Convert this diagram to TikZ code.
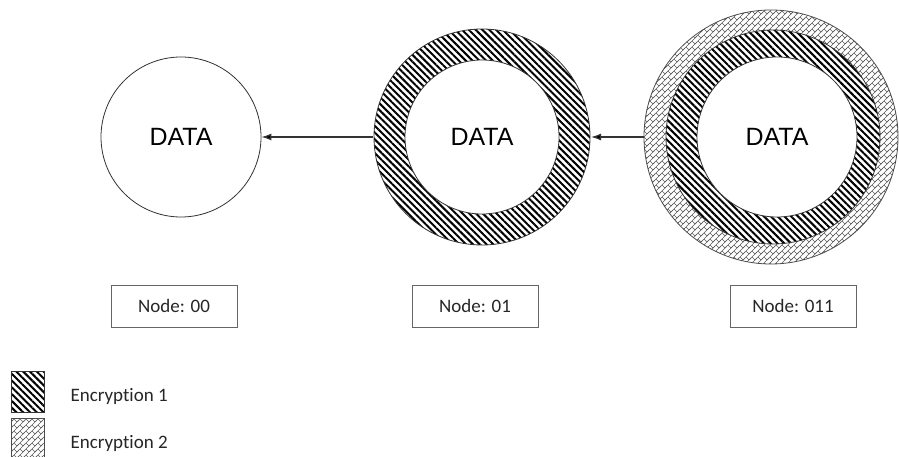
\documentclass[tikz,border=0pt]{standalone}
\usepackage{fontspec}
\setmainfont{Carlito}[Ligatures=NoCommon]
\newfontfamily\datafont{Liberation Sans}
\usepackage{tikz}
\usetikzlibrary{arrows.meta,patterns,patterns.meta}

\pgfdeclarepatternformonly{encweave}{\pgfqpoint{-2pt}{-2pt}}{\pgfqpoint{8pt}{8pt}}{\pgfqpoint{6pt}{6pt}}{
  \pgfsetlinewidth{0.6pt}
  \pgfpathmoveto{\pgfqpoint{-1pt}{-1pt}}\pgfpathlineto{\pgfqpoint{7pt}{7pt}}
  \pgfpathmoveto{\pgfqpoint{2pt}{2pt}}\pgfpathcurveto{\pgfqpoint{3pt}{0.5pt}}{\pgfqpoint{4pt}{0pt}}{\pgfqpoint{5pt}{-1pt}}
  \pgfusepath{stroke}
}

\begin{document}
\begin{tikzpicture}[x=1pt,y=-1pt,
    datacircle/.style={circle, draw=black!80, line width=0.8pt, fill=white, inner sep=0pt,
      font=\datafont\fontsize{25}{29}\selectfont},
    ringone/.style={circle, draw=black!80, line width=0.8pt, inner sep=0pt, preaction={fill=white},
      pattern={Lines[angle=-45,distance=4.8pt,line width=2pt]}},
    ringtwo/.style={circle, draw=black!70, line width=0.8pt, inner sep=0pt,
      pattern=encweave, pattern color=black!65},
    nodebox/.style={draw=black!60, line width=1pt, minimum width=126pt, minimum height=42pt,
      font=\fontsize{19}{22}\selectfont, text=black!85},
    legendtext/.style={anchor=west, font=\fontsize{19}{22}\selectfont, text=black!85},
    ->/.style={draw=black!80, line width=1.2pt, -{Latex[length=10pt,width=7pt]}}]
  \useasboundingbox (0,0) rectangle (899,457);

  \node (core1) [datacircle, minimum size=160pt] at (181,137) {DATA};

  \node (ring2) [ringone, minimum size=216pt] at (482,137) {};
  \node (core2) [datacircle, minimum size=154pt] at (482,137) {DATA};

  \node (ring3) [ringtwo, minimum size=254pt] at (771,137) {};
  \node (mid3) [ringone, minimum size=214pt] at (773,137) {};
  \node (core3) [datacircle, minimum size=160pt] at (777,137) {DATA};

  \path[->]
  (ring2) edge (core1)
  (ring3) edge (ring2)
  ;

  \node (label1) [nodebox] at (174,306) {Node: 00};
  \node (label2) [nodebox] at (475,306) {Node: 01};
  \node (label3) [nodebox] at (793,306) {Node: 011};

  \node (key1) [draw=black!80, line width=0.8pt, minimum width=33pt, minimum height=41pt, inner sep=0pt,
    pattern={Lines[angle=-45,distance=4.8pt,line width=2pt]}] at (27.5,391.5) {};
  \node (key2) [draw=black!70, line width=0.8pt, minimum width=33pt, minimum height=41pt, inner sep=0pt,
    pattern=encweave, pattern color=black!65] at (27.5,438.5) {};
  \node (keytext1) [legendtext] at (67,396) {Encryption 1};
  \node (keytext2) [legendtext] at (67,443) {Encryption 2};
\end{tikzpicture}
\end{document}
